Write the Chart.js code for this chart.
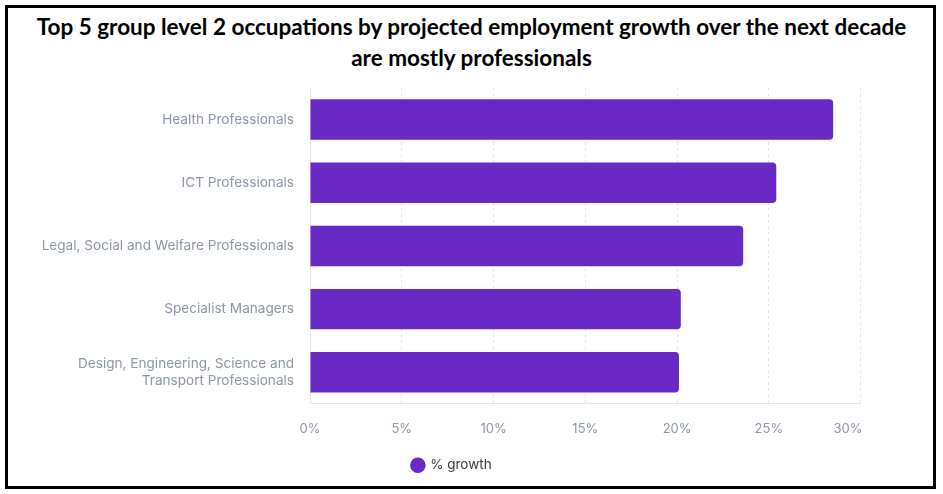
<!DOCTYPE html>
<html>
<head>
<meta charset="utf-8">
<script src="https://cdn.jsdelivr.net/npm/chart.js@4.4.0/dist/chart.umd.min.js"></script>
<style>
  html, body { margin: 0; padding: 0; background: #ffffff; }
  body { width: 943px; height: 494px; position: relative; overflow: hidden; }
  #frame { position: absolute; left: 5px; top: 5px; width: 925px; height: 478px; border: 3px solid #000; }
  #title { position: absolute; left: 0; top: 11px; width: 943px; text-align: center;
           font-family: Lato, "Open Sans", sans-serif; font-weight: bold; font-size: 22.5px;
           line-height: 31px; color: #000; }
  #wrap { position: absolute; left: 0; top: 80px; width: 905px; height: 410px; }
</style>
</head>
<body>
<div id="frame"></div>
<div id="title">Top 5 group level 2 occupations by projected employment growth over the next decade<br>are mostly professionals</div>
<div id="wrap"><canvas id="c"></canvas></div>
<script>
const categories = [
  "Health Professionals",
  "ICT Professionals",
  "Legal, Social and Welfare Professionals",
  "Specialist Managers",
  ["Design, Engineering, Science and", "Transport Professionals"]
];
const growth = [28.5, 25.4, 23.6, 20.2, 20.1];
const seriesName = "% growth";
const tickValues = [0, 5, 10, 15, 20, 25, 30];

const purple = "#6929c4";
const labelColor = "#8c96a8";
const gridColor = "#e1e5ee";

new Chart(document.getElementById("c"), {
  type: "bar",
  data: {
    labels: categories,
    datasets: [{
      label: seriesName,
      data: growth,
      backgroundColor: purple,
      borderColor: purple,
      borderWidth: 0,
      borderRadius: 4,
      borderSkipped: "start",
      categoryPercentage: 0.64,
      barPercentage: 1.0
    }]
  },
  options: {
    indexAxis: "y",
    responsive: true,
    maintainAspectRatio: false,
    animation: false,
    layout: { padding: { top: 8, right: 44, left: 43, bottom: 8 } },
    scales: {
      x: {
        min: 0, max: 30,
        afterBuildTicks: (s) => { s.ticks = tickValues.map(v => ({ value: v })); },
        grid: { color: gridColor, drawTicks: false },
        border: { display: true, color: gridColor, dash: [3, 3] },
        ticks: {
          color: labelColor, padding: 17,
          font: { family: "Inter", size: 13 },
          callback: (v, i, arr) => (i === arr.length - 1 ? v + "%" + "\u00a0".repeat(7) : v + "%")
        }
      },
      y: {
        grid: { display: false, drawTicks: false },
        border: { display: true, color: gridColor },
        afterFit: (s) => { s.width = 267; s.paddingTop = 0; s.paddingBottom = 0; },
        ticks: {
          color: labelColor, padding: 16,
          font: { family: "Inter", size: 13.6, lineHeight: 1.2 }
        }
      }
    },
    plugins: {
      legend: {
        position: "bottom",
        labels: {
          usePointStyle: true, pointStyle: "circle", boxWidth: 11, boxHeight: 11,
          padding: 5, color: "#333a46",
          font: { family: "Inter", size: 13.5 }
        }
      },
      tooltip: { enabled: false }
    }
  }
});
</script>
</body>
</html>
